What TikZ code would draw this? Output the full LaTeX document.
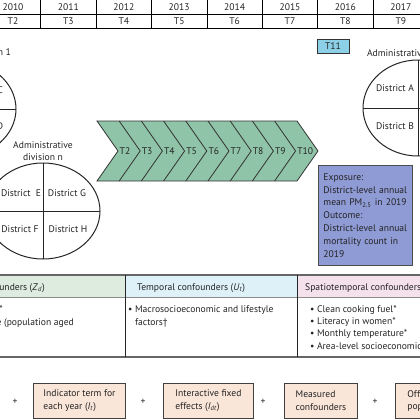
\documentclass[tikz,border=0pt]{standalone}
\usepackage{fontspec}
\setmainfont{PT Sans}
\usepackage{xcolor}
\usepackage{tikz}
\usetikzlibrary{positioning}
\definecolor{chevgreen}{RGB}{143,196,168}
\definecolor{expblue}{RGB}{143,155,213}
\definecolor{tblue}{RGB}{140,208,232}
\definecolor{hdgreen}{RGB}{221,236,222}
\definecolor{hdblue}{RGB}{222,241,249}
\definecolor{hdpink}{RGB}{244,225,235}
\definecolor{termpeach}{RGB}{250,229,217}
\definecolor{inkgrey}{RGB}{35,35,35}
\newcommand\yearstep{55.4}
\newcommand\chevstep{22.2}

\begin{document}
\begin{tikzpicture}[x=1pt,y=-1pt,
every node/.style={inner sep=0pt,text=inkgrey,font=\fontsize{9.6}{12.5}\selectfont},
divline/.style={line width=1pt,black!85},
chevline/.style={line width=0.8pt,black!80},
term/.style={draw=black!75,line width=0.8pt,fill=termpeach,minimum height=35pt,anchor=north west,align=left}]
\useasboundingbox (0,0) rectangle (420,420);
\clip (0,0) rectangle (420,420);

%----------years
\foreach \i in {0,...,7}{%
\pgfmathtruncatemacro\yr{2010+\i}
\pgfmathtruncatemacro\tnum{2+\i}
\draw[line width=0.7pt] (-14.7+\yearstep*\i,-1) rectangle (40.7+\yearstep*\i,28.5);
\draw[line width=0.7pt] (-14.7+\yearstep*\i,14) -- (40.7+\yearstep*\i,14);
\node (yr\i) at (13+\yearstep*\i,7.5) {\yr};
\node (tp\i) at (13+\yearstep*\i,21.5) {T\tnum};
}

%----------division 1
\coordinate (div1) at (-40,109);
\draw[divline] (div1) ellipse [x radius=56pt,y radius=48pt];
\draw[divline] (div1) ++(-56,0) -- ++(112,0);
\draw[divline] (div1) ++(0,-48) -- ++(0,96);
\node (lab1) at ([yshift=57pt]div1) {Administrative division 1};
\node (dC) at ([shift={(24,-19)}]div1) {District C};
\node (dD) at ([shift={(24,17)}]div1) {District D};

%----------division n
\coordinate (divn) at (43,211);
\draw[divline] (divn) ellipse [x radius=57pt,y radius=48pt];
\draw[divline] (divn) ++(-57,0) -- ++(114,0);
\draw[divline] (divn) ++(0,-48) -- ++(0,96);
\node[align=center,font=\fontsize{9.6}{12}\selectfont] (labn) at ([yshift=60pt]divn) {Administrative\\division n};
\node (dE) at ([shift={(-22,-18)}]divn) {District\ \ E};
\node (dG) at ([shift={(24,-18)}]divn) {District G};
\node (dF) at ([shift={(-23,18)}]divn) {District F};
\node (dH) at ([shift={(25,18)}]divn) {District H};

%----------division 2
\coordinate (div2) at (418,108);
\draw[divline] (div2) ellipse [x radius=55pt,y radius=48pt];
\draw[divline] (div2) ++(-55,0) -- ++(110,0);
\draw[divline] (div2) ++(0,-48) -- ++(0,96);
\node (lab2) at ([yshift=55pt]div2) {Administrative division 2};
\node (dA) at ([shift={(-23,-20)}]div2) {District A};
\node (dB) at ([shift={(-23,18)}]div2) {District B};

%----------chevrons
\draw[chevline,fill=chevgreen] (97,121) -- (297,121) -- (318,151) -- (297,181) -- (97,181) -- (118,151) -- cycle;
\foreach \k in {1,...,8}{%
\draw[chevline] (97+\chevstep*\k,121) -- (118+\chevstep*\k,151) -- (97+\chevstep*\k,181);
}
\foreach \k [evaluate=\k as \tnum using int(\k+2)] in {0,...,8}{%
\node[anchor=west] (ch\tnum) at (119.5+\chevstep*\k,151) {T\tnum};
}

%T11:
\node[draw=black!80,fill=tblue,line width=0.8pt,
minimum width=32pt,minimum height=14pt] (t11) at (333,46) {T11};

%exposure and outcome:
\node[draw=black!70,fill=expblue,line width=0.9pt,anchor=north west,
text width=84pt,inner xsep=5pt,inner ysep=5pt,minimum height=100pt,align=left,
font=\fontsize{9.6}{12.8}\selectfont] (expo) at (318,165)
{Exposure:\\District-level annual\\mean PM\textsubscript{2.5} in 2019\\Outcome:\\District-level annual\\mortality count in\\2019};

%----------confounders
\fill[hdgreen] (-47,275) rectangle (125,297);
\fill[hdblue] (125,275) rectangle (297,297);
\fill[hdpink] (297,275) rectangle (469,297);
\draw[black!45,line width=0.5pt] (-47,297) -- (469,297);
\draw[black!60,line width=1.2pt] (-47,275) -- (469,275);
\draw[black!60,line width=1.2pt] (-47,357) -- (469,357);
\draw[black!85,line width=0.8pt] (125,275) -- (125,357);
\draw[black!85,line width=0.8pt] (297,275) -- (297,357);
\node[anchor=base east] (hsp) at (45,290) {Spatial confounders (\textit{Z}\textsubscript{\textit{d}})};
\node[anchor=base west] (htm) at (137,290) {Temporal confounders (\textit{U}\textsubscript{\textit{t}})};
\node[anchor=base west] (hst) at (305,290) {Spatiotemporal confounders};
%spatial:
\node[anchor=base east] (sp1) at (3,312) {\textbullet\ Urbanisation*};
\node[anchor=base east] (sp2) at (74,325) {\textbullet\ Age structure (population aged};
%temporal:
\node[anchor=base west] (tm1) at (128,312) {\textbullet\ Macrosocioeconomic and lifestyle};
\node[anchor=base west] (tm2) at (128,325) {\phantom{\textbullet\ }factors\textdagger};
%spatiotemporal:
\foreach \txt [count=\n from 0] in {Clean cooking fuel*,Literacy in women*,Monthly temperature*,Area-level socioeconomic status}{%
\node[anchor=base west] (st\n) at (310,312+12.4*\n) {\textbullet\ \txt};
}

%----------terms
\node (pl1) at (15,402) {+};
\node[term,minimum width=92pt] (ind) at (33,383) {Indicator term for\\each year (\textit{I}\textsubscript{\textit{t}})};
\node (pl2) at (143,402) {+};
\node[term,minimum width=90pt] (ife) at (163,383) {Interactive fixed\\effects (\textit{I}\textsubscript{\textit{dt}})};
\node (pl3) at (263,402) {+};
\node[term,minimum width=73pt] (msc) at (284,383) {Measured\\confounders};
\node (pl4) at (375,402) {+};
\node[term,inner xsep=12pt] (ofs) at (395,383) {Offset (log of\\population)};

\end{tikzpicture}
\end{document}
